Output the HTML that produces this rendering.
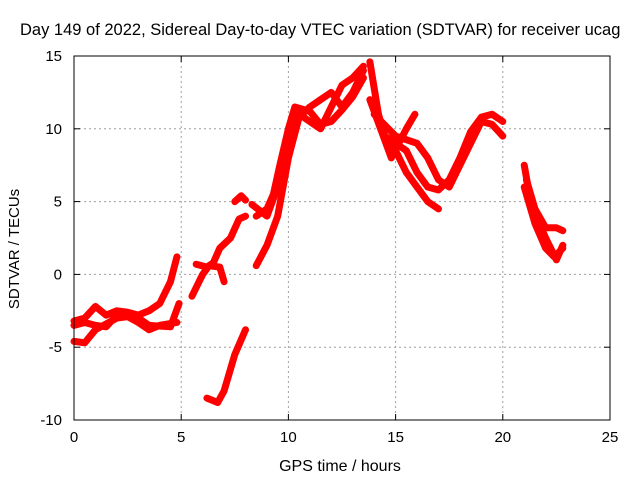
<!DOCTYPE html>
<html><head><meta charset="utf-8"><style>
body{margin:0;background:#fff;}
svg text{font-family:"Liberation Sans",sans-serif;fill:#000;}
</style></head><body>
<svg id="chart" width="640" height="480" xmlns="http://www.w3.org/2000/svg">
<g id="grid"></g><g id="series"></g><g id="axes"></g>
</svg>
<script>
const xTicks=[0,5,10,15,20,25];
const yTicks=[-10,-5,0,5,10,15];
const trackA=[[0,-3.2],[0.5,-3],[1,-2.2],[1.5,-2.8],[2,-2.5],[2.5,-2.6],[3,-2.8],[3.5,-2.5],[4,-2],[4.5,-0.5],[4.8,1.2]];
const trackB=[[0,-4.6],[0.5,-4.7],[1,-3.8],[1.5,-3.4],[2,-3],[2.5,-2.9],[3,-3.3],[3.5,-3.8],[4,-3.5],[4.8,-3.3]];
const trackC=[[0,-3.5],[0.5,-3.3],[1,-3.5],[1.5,-3.6],[2,-2.8],[3,-3],[3.5,-3.5],[4.5,-3.6],[4.9,-2]];
const trackD=[[5.5,-1.5],[6,0],[6.3,0.6],[6.8,0.5],[7,-0.5]];
const trackE=[[5.7,0.7],[6.2,0.5],[6.5,0.8],[6.8,1.8],[7.3,2.5],[7.7,3.8],[8,4]];
const trackF=[[6.2,-8.5],[6.7,-8.8],[7,-8],[7.5,-5.5],[8,-3.8]];
const trackG=[[7.5,5],[7.8,5.4],[8,5.1]];
const trackH=[[8.5,4],[9,4.5],[9.3,5.5],[9.6,7.5],[10,10],[10.3,11.5],[11,11.2],[11.5,10.3],[12,10.5],[12.5,11.3],[13,12.2],[13.5,13.5]];
const trackI=[[8.5,0.6],[9,2],[9.5,4],[10,8],[10.5,10.8],[11,11.5],[11.5,12],[12,12.5],[12.5,11.5],[13,12.5],[13.5,14]];
const trackJ=[[8.3,4.8],[9,4],[9.5,6],[10,9.5],[10.5,11],[11,10.5],[11.5,10],[12,11.5],[12.5,13],[13,13.5],[13.5,14.3]];
const trackK=[[13.8,14.6],[14.2,11],[14.6,9],[15,8.5],[15.5,7],[16,6],[16.5,5],[17,4.5]];
const trackL=[[13.8,12],[14.3,10],[14.8,8],[15.5,10],[15.9,11]];
const trackM=[[14.5,9.5],[15,9],[15.5,8.5],[16,7],[16.5,6],[17,5.8],[17.5,6.5],[18,8],[18.5,9.8],[19,10.8],[19.5,11],[20,10.5]];
const trackN=[[14,11],[15,9.5],[16,9],[16.5,8],[17,6.5],[17.5,6],[18.5,9],[19,10.5],[19.5,10.3],[20,9.5]];
const trackO=[[21,7.5],[21.3,5],[21.7,3.5],[22,2.5],[22.5,1],[22.8,2]];
const trackP=[[21.1,6.5],[21.5,4.5],[22,3.2],[22.5,3.2],[22.8,3]];
const trackQ=[[21,6],[21.5,3.5],[22,1.8],[22.4,1.2],[22.8,1.8]];
const tracks=[trackA,trackB,trackC,trackD,trackE,trackF,trackG,trackH,trackI,trackJ,trackK,trackL,trackM,trackN,trackO,trackP,trackQ];

const L=74,R=610,T=56,B=420,NS="http://www.w3.org/2000/svg";
const xs=v=>L+(v-0)/25*(R-L);
const ys=v=>B-(v+10)/25*(B-T);
function mk(tag,attrs,parent,text){const e=document.createElementNS(NS,tag);for(const k in attrs)e.setAttribute(k,attrs[k]);if(text!=null)e.textContent=text;document.getElementById(parent).appendChild(e);return e;}

xTicks.forEach(t=>{
  const x=xs(t);
  if(t>0&&t<25){const g=mk('line',{x1:x,x2:x,y1:T,y2:B,stroke:'#a0a0a0','stroke-dasharray':'2,3'},'grid');
  
  }
  mk('line',{x1:x,x2:x,y1:B,y2:B-6,stroke:'#000'},'axes');
  mk('line',{x1:x,x2:x,y1:T,y2:T+6,stroke:'#000'},'axes');
  const lb=mk('text',{x:x,y:B+22,'text-anchor':'middle',style:'font-size:15px'},'axes',String(t));
  
  
});
yTicks.forEach(t=>{
  const y=ys(t);
  if(t>-10&&t<15){const g=mk('line',{x1:L,x2:R,y1:y,y2:y,stroke:'#a0a0a0','stroke-dasharray':'2,3'},'grid');
  
  }
  mk('line',{x1:L,x2:L+6,y1:y,y2:y,stroke:'#000'},'axes');
  mk('line',{x1:R,x2:R-6,y1:y,y2:y,stroke:'#000'},'axes');
  const lb=mk('text',{x:L-12,y:y+5,'text-anchor':'end',style:'font-size:15px'},'axes',String(t));
  
  
});
const fr=mk('rect',{x:L,y:T,width:R-L,height:B-T,fill:'none',stroke:'#000'},'axes');



tracks.forEach(tr=>{
  const p=mk('polyline',{points:tr.map(d=>xs(d[0])+','+ys(d[1])).join(' '),fill:'none',stroke:'#ff0000','stroke-width':7,'stroke-linejoin':'round','stroke-linecap':'round'},'series');
  
  
});

const t1=mk('text',{x:20,y:35,'text-anchor':'start',style:'font-size:16.5px'},'axes','Day 149 of 2022, Sidereal Day-to-day VTEC variation (SDTVAR) for receiver ucag');


const t2=mk('text',{x:340,y:471,'text-anchor':'middle',style:'font-size:16px'},'axes','GPS time / hours');


const t3=mk('text',{x:19,y:249,'text-anchor':'middle',style:'font-size:15px',transform:'rotate(-90 19 249)'},'axes','SDTVAR / TECUs');


</script>
</body></html>
